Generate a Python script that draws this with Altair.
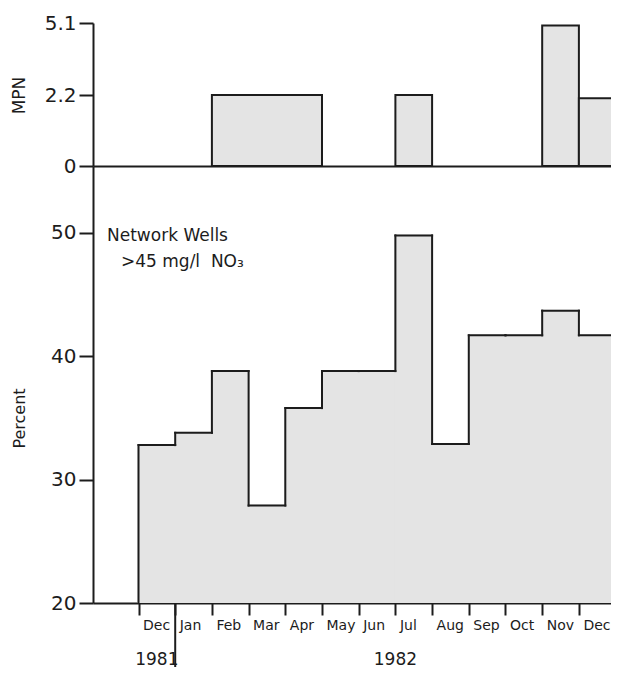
import altair as alt
import pandas as pd

# ---------------- data ----------------
months = ["Dec", "Jan", "Feb", "Mar", "Apr", "May", "Jun",
          "Jul", "Aug", "Sep", "Oct", "Nov", "Dec"]
percent = [32.8, 33.8, 38.8, 27.9, 35.8, 38.8, 38.8,
           49.8, 32.9, 41.7, 41.7, 43.7, 41.7]

mpn_start = [2, 7, 11, 12]      # month index where each MPN sample period starts
mpn_length = [3, 1, 1, 1]       # number of months covered
mpn_value = [2.2, 2.2, 5.0, 2.1]

mpn_ticks = [0, 2.2, 5.1]
pct_ticks = [20, 30, 40, 50]

years = ["1981", "1982"]
year_start = [0, 1]
year_end = [1, 13]

note_lines = ["Network Wells", ">45 mg/l\u00a0\u00a0NO\u2083"]

# ---------------- styling ----------------
FONT = "DejaVu Sans"
INK = "#1c1c1c"
FILL = "#e4e4e4"

W = 518
HT = 143
HB = 437
X_DOMAIN = [-1.24, 12.875]
PCT_DOMAIN = [20, 55.43]
BASE = PCT_DOMAIN[0]

pct_df = pd.DataFrame({"month": months, "start": list(range(len(months))), "pct": percent})
pct_df["end"] = pct_df["start"] + 1
mpn_df = pd.DataFrame({"start": mpn_start, "length": mpn_length, "mpn": mpn_value})
mpn_df["end"] = mpn_df["start"] + mpn_df["length"]
year_df = pd.DataFrame({"year": years, "start": year_start, "end": year_end})

xscale = alt.Scale(domain=X_DOMAIN, nice=False, zero=False)

# ---------------- top panel (MPN) ----------------
top_y_scale = alt.Scale(domain=mpn_ticks, range=[HT, 72, 0])

top_x_axis = alt.Axis(ticks=False, labels=False, grid=False,
                      domainColor=INK, domainWidth=2)
top_y_axis = alt.Axis(values=mpn_ticks, format=".1~f", grid=False,
                      tickSize=14, tickWidth=2, tickColor=INK,
                      domainColor=INK, domainWidth=2,
                      labelFont=FONT, labelFontSize=20, labelColor=INK,
                      labelPadding=3, labelOverlap=False, labelFlush=False,
                      titleFont=FONT, titleFontSize=17, titleFontWeight="normal",
                      titleColor=INK, titleAngle=270, titleX=-74, titleY=72,
                      titleAlign="center", titleBaseline="middle")

top = alt.Chart(mpn_df).mark_rect(
    fill=FILL, stroke=INK, strokeWidth=2, clip=True
).encode(
    x=alt.X("start:Q", scale=xscale, axis=top_x_axis, title=None),
    x2="end:Q",
    y=alt.Y("mpn:Q", scale=top_y_scale, axis=top_y_axis, title="MPN"),
    y2=alt.datum(0),
).properties(width=W, height=HT)

# ---------------- bottom panel (Percent) ----------------
yscale = alt.Scale(domain=PCT_DOMAIN, nice=False, zero=False)
label_expr = "[" + ",".join("'%s'" % m for m in months) + "][datum.value]"

x_axis = alt.Axis(values=list(range(len(months))), labelExpr=label_expr,
                  labelAlign="left", labelOffset=4, labelPadding=3,
                  labelFlush=False, labelOverlap=False,
                  tickSize=12, tickWidth=2, tickColor=INK,
                  domainColor=INK, domainWidth=2, grid=False,
                  labelFont=FONT, labelFontSize=14, labelColor=INK)
y_axis = alt.Axis(values=pct_ticks, grid=False,
                  tickSize=14, tickWidth=2, tickColor=INK,
                  domainColor=INK, domainWidth=2,
                  labelFont=FONT, labelFontSize=20, labelColor=INK,
                  labelPadding=3, labelOverlap=False, labelFlush=False,
                  titleFont=FONT, titleFontSize=16, titleFontWeight="normal",
                  titleColor=INK, titleAngle=270, titleX=-74, titleY=252,
                  titleAlign="center", titleBaseline="middle")

fill = alt.Chart(pct_df).mark_rect(
    fill=FILL, stroke=FILL, strokeWidth=2, clip=True
).encode(
    x=alt.X("start:Q", scale=xscale, axis=x_axis, title=None),
    x2="end:Q",
    y=alt.Y("pct:Q", scale=yscale, axis=y_axis, title="Percent"),
    y2=alt.datum(BASE),
)

tops = alt.Chart(pct_df).mark_rule(
    color=INK, strokeWidth=2, clip=True, strokeCap="square"
).encode(x="start:Q", x2="end:Q", y="pct:Q")

risers = alt.Chart(pct_df).transform_window(
    prev="lag(pct)", sort=[alt.SortField("start")]
).transform_calculate(
    frm="datum.prev == null ? %s : datum.prev" % BASE
).mark_rule(
    color=INK, strokeWidth=2, clip=True, strokeCap="square"
).encode(x="start:Q", y="frm:Q", y2="pct:Q")

note1 = alt.Chart(pct_df).transform_filter("datum.start == 0").mark_text(
    text=note_lines[0], align="left", baseline="alphabetic",
    font=FONT, fontSize=17, color=INK
).encode(x=alt.value(14), y=alt.value(75))

note2 = alt.Chart(pct_df).transform_filter("datum.start == 0").mark_text(
    text=note_lines[1], align="left", baseline="alphabetic",
    font=FONT, fontSize=17, color=INK
).encode(x=alt.value(28), y=alt.value(101))

year_rule = alt.Chart(year_df).transform_filter("datum.start > 0").mark_rule(
    color=INK, strokeWidth=2
).encode(x="start:Q", y=alt.value(HB), y2=alt.value(HB + 64))

year_text = alt.Chart(year_df).transform_calculate(
    mid="(datum.start + datum.end) / 2"
).mark_text(font=FONT, fontSize=17, color=INK, baseline="middle").encode(
    x="mid:Q", y=alt.value(HB + 57), text="year:N"
)

bottom = alt.layer(fill, tops, risers, note1, note2, year_rule, year_text).properties(
    width=W, height=HB
)

chart = alt.vconcat(top, bottom, spacing=0, bounds="flush").properties(
    padding={"left": 2, "top": 5, "right": 0, "bottom": 0},
    background="white",
).configure_view(strokeWidth=0)

chart.save("out.html", embed_options={"renderer": "svg", "actions": False})
